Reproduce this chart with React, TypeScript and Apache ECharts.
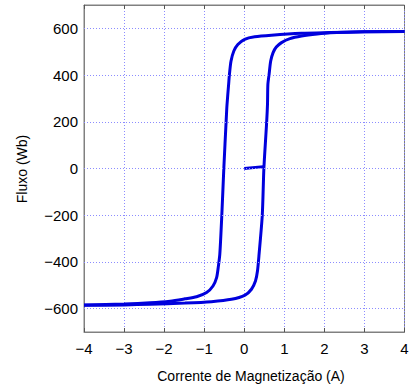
import React, { useEffect, useRef } from "react";
import * as echarts from "echarts";

// Hysteresis loop: magnetising current (A) vs. flux linkage (Wb)
const descendingBranch: [number, number][] = [
  [4, 587], [3, 585], [2.14, 582], [1.43, 579], [0.68, 571], [0.26, 564],
  [0.01, 553], [-0.16, 531], [-0.26, 503], [-0.33, 460], [-0.37, 403],
  [-0.39, 360], [-0.43, 274], [-0.45, 210], [-0.51, 0], [-0.56, -200],
  [-0.61, -367], [-0.65, -424], [-0.69, -467], [-0.78, -503], [-0.94, -531],
  [-1.19, -549], [-1.48, -558], [-1.85, -568], [-2.35, -575], [-3, -580],
  [-4, -584],
];

const ascendingBranch: [number, number][] = [
  [-4, -586], [-3, -584], [-2.35, -581], [-1.48, -576], [-0.82, -570],
  [-0.32, -560], [0.02, -542], [0.18, -517], [0.28, -482], [0.33, -439],
  [0.37, -367], [0.45, -200], [0.49, 0], [0.56, 200], [0.58, 274],
  [0.59, 360], [0.62, 403], [0.66, 460], [0.72, 496], [0.8, 520],
  [0.93, 539], [1.14, 556], [1.43, 567], [1.82, 576], [2.15, 581],
  [3, 585], [4, 587],
];

const initialCurve: [number, number][] = [[0, 0], [0.48, 8]];

const yTicks = [-600, -400, -200, 0, 200, 400, 600];
const xRange = [-4, 4];
const yRange = [-700, 700];

const LINE_COLOR = "#0000dd";
const GRID_COLOR = "#8c8cff";
const FRAME_COLOR = "#808080";
const FONT = "'Liberation Sans', Arial, sans-serif";

const fmt = (v: number) => String(v).replace("-", "\u2212");

export default function App() {
  const ref = useRef<HTMLDivElement>(null);

  useEffect(() => {
    if (!ref.current) return;
    const chart = echarts.init(ref.current, undefined, { renderer: "svg" });

    const lineSeries = (name: string, data: [number, number][]) => ({
      name,
      type: "line",
      data,
      showSymbol: false,
      smooth: 0.25,
      lineStyle: { color: LINE_COLOR, width: 3 },
      z: 3,
    });

    chart.setOption({
      animation: false,
      backgroundColor: "#ffffff",
      grid: {
        left: 84,
        right: 7.5,
        top: 5,
        bottom: 59,
        show: true,
        borderColor: FRAME_COLOR,
        borderWidth: 1,
      },
      xAxis: [
        {
          type: "value",
          min: xRange[0],
          max: xRange[1],
          interval: 1,
          axisLine: { show: true, onZero: false, lineStyle: { color: FRAME_COLOR } },
          axisTick: { show: true, inside: true, length: 4, lineStyle: { color: "#555" } },
          axisLabel: {
            formatter: (v: number) => fmt(v),
            color: "#000",
            fontFamily: FONT,
            fontSize: 15,
            margin: 9,
          },
          splitLine: { show: true, lineStyle: { color: GRID_COLOR, type: [1, 2], width: 1 } },
        },
        {
          type: "value",
          position: "top",
          min: xRange[0],
          max: xRange[1],
          interval: 1,
          axisLine: { show: true, onZero: false, lineStyle: { color: FRAME_COLOR } },
          axisTick: { show: true, inside: true, length: 4, lineStyle: { color: "#555" } },
          axisLabel: { show: false },
          splitLine: { show: false },
        },
      ],
      yAxis: {
        type: "value",
        min: yRange[0],
        max: yRange[1],
        interval: 100,
        axisLine: { show: true, onZero: false, lineStyle: { color: FRAME_COLOR } },
        axisTick: { show: false },
        axisLabel: {
          formatter: (v: number) => (yTicks.includes(v) ? fmt(v) : ""),
          color: "#000",
          fontFamily: FONT,
          fontSize: 15,
          margin: 6,
        },
        splitLine: { show: false },
      },
      graphic: [
        {
          type: "text",
          x: 251,
          y: 376,
          style: {
            text: "Corrente de Magnetização (A)",
            fontFamily: FONT,
            fontSize: 14,
            fill: "#000",
            align: "center",
            verticalAlign: "middle",
          },
        },
        {
          type: "text",
          x: 22,
          y: 169,
          rotation: Math.PI / 2,
          style: {
            text: "Fluxo (Wb)",
            fontFamily: FONT,
            fontSize: 14,
            fill: "#000",
            align: "center",
            verticalAlign: "middle",
          },
        },
      ],
      series: [
        {
          name: "grid",
          type: "line",
          data: [],
          silent: true,
          markLine: {
            silent: true,
            symbol: "none",
            label: { show: false },
            lineStyle: { color: GRID_COLOR, type: [1, 2], width: 1 },
            data: yTicks.map((v) => ({ yAxis: v })),
          },
          z: 1,
        },
        lineSeries("descending", descendingBranch),
        lineSeries("ascending", ascendingBranch),
        lineSeries("initial", initialCurve),
      ],
    });

    return () => chart.dispose();
  }, []);

  return <div ref={ref} style={{ width: 412, height: 391, position: "absolute", left: 0, top: 0 }} />;
}
